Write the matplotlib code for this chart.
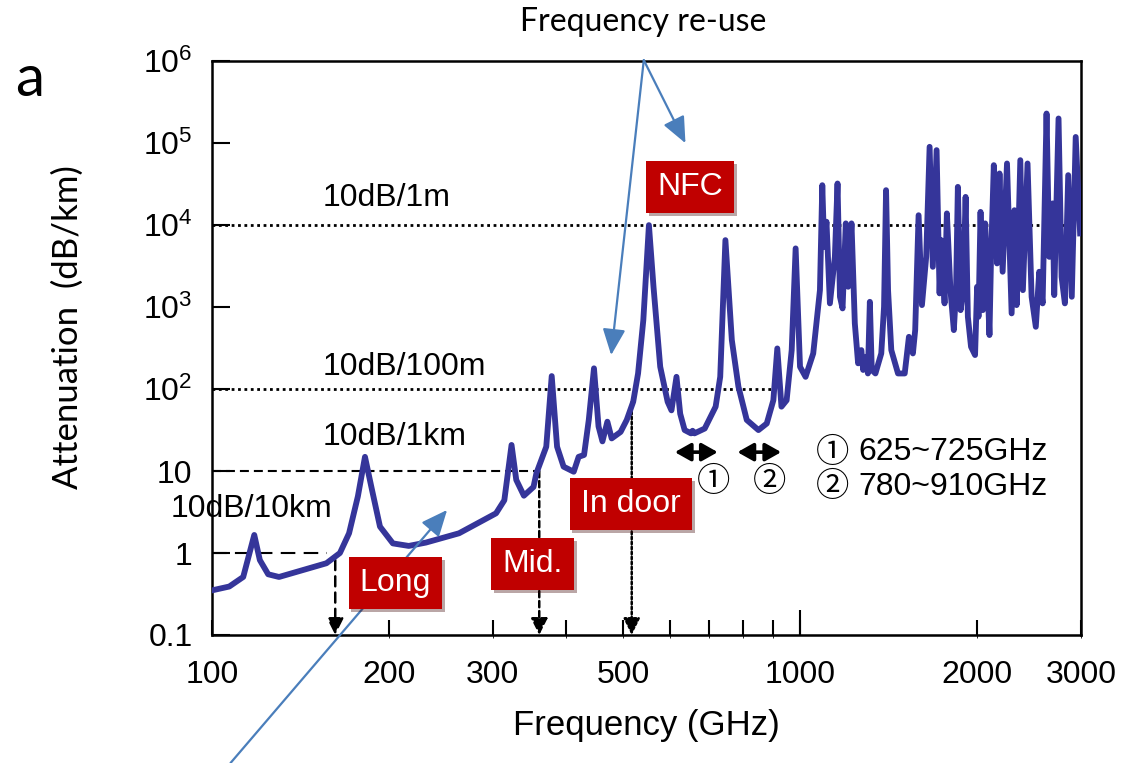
import matplotlib
matplotlib.use('Agg')
import matplotlib.pyplot as plt
import matplotlib.patheffects as pe

plt.rcParams['font.family'] = ['Liberation Sans', 'Noto Sans CJK JP', 'DejaVu Sans']
plt.rcParams['mathtext.fontset'] = 'custom'
plt.rcParams['mathtext.rm'] = 'Liberation Sans'

# attenuation curve (GHz, dB/km)
freq = [100, 107, 113, 118, 120.6, 124.6, 130, 156.5, 165, 171, 177, 182, 186.6, 193,
        203, 216, 231, 263, 304, 314, 323, 329, 339, 352, 356, 370, 378, 386, 396, 412,
        420, 429, 437, 446, 454, 461, 470, 478, 495, 507, 520, 530, 541, 553, 563, 578,
        595, 604, 616, 625, 636, 652, 656, 661, 688, 718, 731, 746, 765, 785, 811, 849,
        877, 900, 914, 929, 948, 967, 982, 999, 1021, 1052, 1080, 1090, 1098, 1108, 1123,
        1145, 1157, 1168, 1180, 1195, 1206, 1222, 1238, 1254, 1270, 1279, 1296, 1303, 1313,
        1323, 1342, 1373, 1388, 1399, 1410, 1428, 1466, 1505, 1530, 1554, 1568, 1589, 1610,
        1637, 1659, 1680, 1705, 1725, 1736, 1759, 1775, 1800, 1824, 1840, 1853, 1873, 1892,
        1910, 1927, 1951, 1982, 1998, 2009, 2025, 2043, 2062, 2097, 2110, 2133, 2160, 2181,
        2208, 2246, 2287, 2312, 2332, 2366, 2390, 2434, 2473, 2514, 2548, 2582, 2622, 2650,
        2685, 2702, 2748, 2781, 2817, 2854, 2894, 2939, 2990]
atten = [0.35, 0.39, 0.51, 1.66, 0.82, 0.55, 0.51, 0.75, 1.0, 1.74, 4.9, 14.9, 6.4, 2.1,
         1.31, 1.22, 1.34, 1.74, 3.05, 4.4, 20.8, 7.8, 5.0, 6.4, 9.4, 19.8, 144, 19.8, 11.3, 9.8,
         14.9, 15.7, 42, 179, 35, 23, 40, 25, 30, 42, 70, 155, 693, 10000, 1770, 187,
         70, 55, 141, 50, 31.6, 28.8, 31, 28.8, 33, 61, 141, 6560, 396, 107, 42, 31.6,
         38, 73, 313, 61, 73, 299, 5200, 187, 141, 272, 1610, 30700, 5430, 11000, 1110,
         4100, 32200, 1336, 964, 10500, 1770, 10500, 633, 206, 299, 171, 248, 155, 1160,
         171, 155, 272, 1009, 26700, 1610, 299, 155, 155, 434, 272, 524, 13200, 1058,
         4100, 90200, 3100, 82200, 1470, 6560, 1110, 13900, 1610, 524, 1610, 29300, 918, 1610,
         22100, 762, 328, 260, 1770, 762, 14500, 918, 10500, 456, 4100, 53900, 3410, 42700,
         2700, 56500, 838, 15200, 1058, 62000, 1610, 56500, 1336, 575, 2700, 1110, 230000, 4100,
         18400, 1400, 200000, 2340, 1110, 40700, 1336, 119000, 7920]

# reference attenuation levels
ref_level = [1e4, 100, 10, 1]
ref_end = [2870, 900, 360, 157]
ref_text = ['10dB/1m', '10dB/100m', '10dB/1km', '10dB/10km']
ref_text_x = [154, 154, 154, 85]
ref_text_y = [21300, 185, 26, 3.44]

# distance classes: marker frequency and where the drop line starts
range_freq = [162, 360, 517]
range_top = [0.82, 10, 70]
range_name = ['Long', 'Mid.', 'In door', 'NFC']
range_box_x = [205, 351, 515, 650]
range_box_y = [0.43, 0.73, 3.96, 29000]

# windows marked with double arrows
band_lo = [612, 782]
band_hi = [724, 928]
band_mark = ['\u2460', '\u2461']
band_mark_x = [712, 886]
band_text = ['625~725GHz', '780~910GHz']

x_ticks = [100, 200, 300, 500, 1000, 2000, 3000]
x_minor = [400, 600, 700, 800, 900]
y_ticks = [0.1, 1, 10, 100, 1e3, 1e4, 1e5, 1e6]
y_labels = ['0.1', '1', '10', r'$\mathregular{10^2}$', r'$\mathregular{10^3}$',
            r'$\mathregular{10^4}$', r'$\mathregular{10^5}$', r'$\mathregular{10^6}$']

blue = '#4A7EBB'
red = '#C00000'
navy = '#35359A'
calib = ['Lato', 'DejaVu Sans']
circ = ['Noto Sans CJK JP', 'DejaVu Sans']

fig = plt.figure(figsize=(11.3, 7.63), dpi=100)
ax = fig.add_axes([0.1876, 0.1678, 0.769, 0.752])
ax.set_xscale('log')
ax.set_yscale('log')
ax.set_xlim(100, 3000)
ax.set_ylim(0.1, 1e6)

ax.plot(freq, atten, color=navy, lw=4.2, solid_joinstyle='round', zorder=3)

styles = [(0, (1, 1.3)), (0, (1, 1.3)), (0, (4.3, 2.4)), (0, (7, 4))]
widths = [2, 2, 1.5, 1.5]
for lev, end, ls, lw in zip(ref_level, ref_end, styles, widths):
    ax.plot([100, end], [lev, lev], color='k', lw=lw, linestyle=ls, zorder=2)
for t, x, y in zip(ref_text, ref_text_x, ref_text_y):
    ax.text(x, y, t, fontsize=23, ha='left', va='center', zorder=4)

drop_styles = [(0, (4, 2.5)), (0, (2.5, 1.5)), (0, (1, 1))]
for f, top, ls in zip(range_freq, range_top, drop_styles):
    ax.annotate('', xy=(f, 0.1), xytext=(f, top),
                arrowprops=dict(arrowstyle='-|>,head_length=0.5,head_width=0.25',
                                linestyle=ls, lw=1.8, color='k',
                                shrinkA=0, shrinkB=0, mutation_scale=20), zorder=2)

for name, x, y in zip(range_name, range_box_x, range_box_y):
    t = ax.text(x, y, name, color='white', fontsize=23, ha='center', va='center', zorder=5,
                bbox=dict(boxstyle='square,pad=0.35', fc=red, ec='none'))
    t.get_bbox_patch().set_path_effects([pe.withSimplePatchShadow(offset=(2, -2), alpha=0.35),
                                         pe.Normal()])

# double arrows and legend of the windows
for lo, hi in zip(band_lo, band_hi):
    ax.annotate('', xy=(lo, 17), xytext=(hi, 17),
                arrowprops=dict(arrowstyle='<|-|>,head_length=0.8,head_width=0.45',
                                lw=2.6, color='k', shrinkA=0, shrinkB=0, mutation_scale=12))
for k, x in zip(band_mark, band_mark_x):
    ax.text(x, 7.5, k, fontsize=24, ha='center', va='center', family=circ)
for k, t, y in zip(band_mark, band_text, [17, 6.4]):
    ax.text(1065, y, k, fontsize=24, ha='left', va='center', family=circ)
    ax.text(1254, y, t, fontsize=23, ha='left', va='center')

# blue pointer arrows
arrow = dict(arrowstyle='-|>,head_length=0.8,head_width=0.35', lw=1.6, color=blue,
             shrinkA=0, shrinkB=0, mutation_scale=20)
ax.annotate('', xy=(477, 260), xytext=(542, 1.03e6), arrowprops=arrow, annotation_clip=False)
ax.annotate('', xy=(638, 1e5), xytext=(542, 1.03e6), arrowprops=arrow, annotation_clip=False)
ax.annotate('', xy=(251, 3.35), xytext=(0.204, 0.0), textcoords='figure fraction',
            arrowprops=arrow, annotation_clip=False)
fig.text(643 / 1130, 1 - 22 / 763, 'Frequency re-use', fontsize=23, ha='center', va='center',
         family=calib)

ax.set_xticks(x_ticks, labels=[str(v) for v in x_ticks])
ax.set_xticks(x_minor, minor=True)
ax.set_xticklabels([], minor=True)
ax.set_yticks(y_ticks, labels=y_labels)
ax.yaxis.set_minor_locator(matplotlib.ticker.NullLocator())
ax.tick_params(axis='x', which='both', direction='in', length=11, width=1.5,
               labelsize=23, pad=18)
ax.tick_params(axis='y', which='major', direction='in', length=13, width=1.5,
               labelsize=23, pad=14)
for s in ax.spines.values():
    s.set_linewidth(1.8)

sec = ax.secondary_xaxis('bottom')
sec.set_xticks([1000], labels=[''])
sec.tick_params(direction='in', length=18, width=1.5)

ax.set_xlabel('Frequency (GHz)', fontsize=25, labelpad=14)
ax.set_ylabel('Attenuation  (dB/km)', fontsize=25, family=calib)
ax.yaxis.set_label_coords(-0.166, 0.537)
ax.yaxis.label.set_va('center')

fig.text(30 / 1130, 1 - 80 / 763, 'a', fontsize=42, ha='center', va='center', family=calib)

fig.savefig('out.png', dpi=100)
